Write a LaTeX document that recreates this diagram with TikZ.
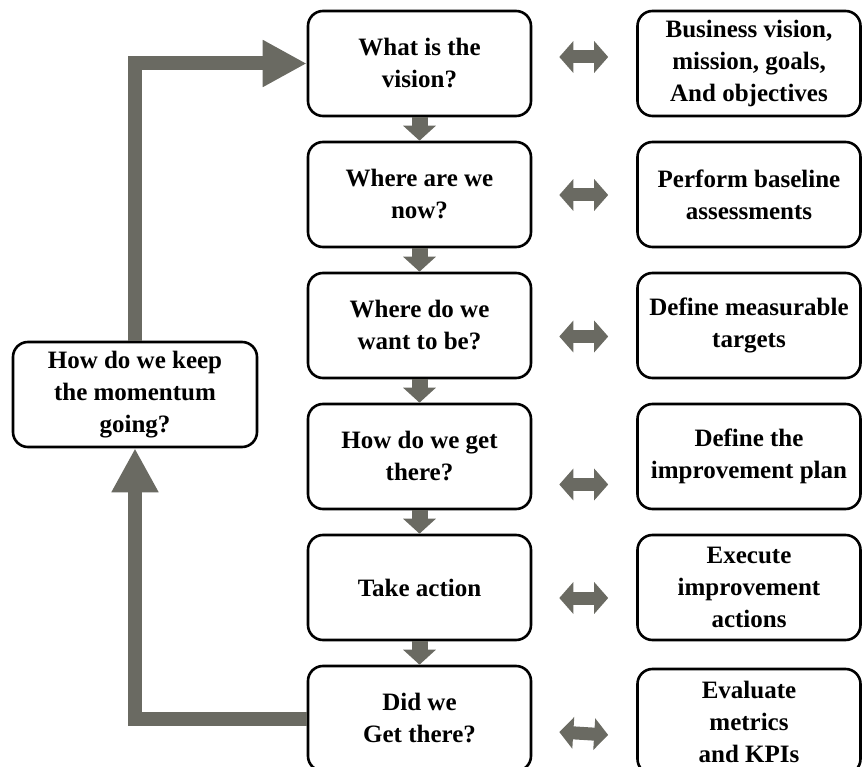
\documentclass[tikz,border=0pt]{standalone}
\usepackage{fontspec}
\setmainfont{Liberation Serif}
\usetikzlibrary{arrows.meta}
\definecolor{arrowgrey}{RGB}{106,106,98}
\begin{document}
\begin{tikzpicture}[x=1pt,y=-1pt,
  box/.style={draw=black, line width=2.6pt, rounded corners=15pt, fill=white,
    minimum width=223pt, minimum height=105pt, align=center,
    font=\fontsize{25}{32}\selectfont\bfseries, inner sep=2pt},
  sidebox/.style={box, minimum width=244pt},
  downarrow/.style={draw=arrowgrey, line width=16pt,
    -{Triangle[length=15pt,width=32pt]}, arrowgrey},
  dblarrow/.style={draw=arrowgrey, line width=13pt,
    {Triangle[length=14pt,width=31pt]}-{Triangle[length=14pt,width=31pt]}, arrowgrey},
  looparrow/.style={draw=arrowgrey, line width=14pt, line join=miter,
    -{Triangle[length=44pt,width=44pt]}, arrowgrey}]
\useasboundingbox (0,0) rectangle (863,767);

% main question column
\node[box] (m1) at (419.5,63.5)  {What is the\\vision?};
\node[box] (m2) at (419.5,194.5) {Where are we\\now?};
\node[box] (m3) at (419.5,325.5) {Where do we\\want to be?};
\node[box] (m4) at (419.5,456.5) {How do we get\\there?};
\node[box] (m5) at (419.5,587.5) {Take action};
\node[box] (m6) at (419.5,718.5) {Did we\\Get there?};

% activity column
\node[box] (r1) at (749,63.5)  {Business vision,\\mission, goals,\\And objectives};
\node[box] (r2) at (749,194.5) {Perform baseline\\assessments};
\node[box] (r3) at (749,325.5) {Define measurable\\targets};
\node[box] (r4) at (749,456.5) {Define the\\improvement plan};
\node[box] (r5) at (749,587.5) {Execute\\improvement\\actions};
\node[box] (r6) at (749,721.5) {Evaluate\\metrics\\and KPIs};

% feedback question
\node[sidebox] (k) at (135,394.5) {How do we keep\\the momentum\\going?};

% flow down the column
\foreach \a/\b in {m1/m2,m2/m3,m3/m4,m4/m5,m5/m6}
  \draw[downarrow] (\a.south) -- (\b.north);

% links between questions and activities
\foreach \i/\dy in {1/-6.5,2/0.5,3/11,4/28,5/10.5,6/13.5}
  \draw[dblarrow] ([shift={(27,\dy)}]m\i.east) -- ([shift={(-28,\dy)}]r\i.west);

% feedback loop
\draw[looparrow] (k.north) |- (m1.west);
\draw[looparrow] (m6.west) -| (k.south);
\end{tikzpicture}
\end{document}
